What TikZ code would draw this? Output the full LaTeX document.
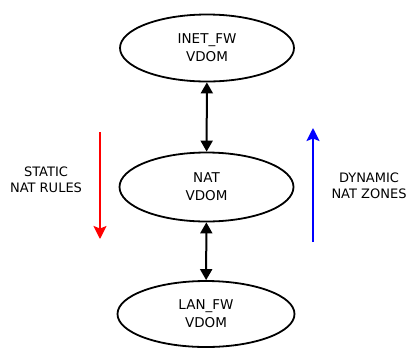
\documentclass[tikz,border=0pt]{standalone}
\usepackage{fontspec}
\setmainfont{DejaVu Sans}
\usetikzlibrary{shapes.geometric,arrows.meta}
\begin{document}
\begin{tikzpicture}[x=1pt,y=-1pt,
  vdom/.style={ellipse, draw, line width=1.8pt, inner sep=0pt, align=center,
    font=\fontsize{13.5}{18}\selectfont},
  lbl/.style={align=center, font=\fontsize{13}{16.5}\selectfont},
  link/.style={line width=2pt, {Triangle[length=11pt,width=12pt]}-{Triangle[length=11pt,width=12pt]}},
  flow/.style={line width=2pt, -{Stealth[length=13pt,width=13pt,inset=2.5pt]}}]
\useasboundingbox (0,0) rectangle (409,349);
\node[vdom, minimum width=174pt, minimum height=67pt] (inet) at (207,48) {INET\_FW\\VDOM};
\node[vdom, minimum width=174pt, minimum height=69pt] (nat) at (206.5,187) {NAT\\VDOM};
\node[vdom, minimum width=177pt, minimum height=66pt] (lan) at (206,314) {LAN\_FW\\VDOM};
\draw[link] (inet) -- (nat);
\draw[link] (nat) -- (lan);
\coordinate (rtop) at (100,132);
\coordinate (rbot) at (100,239);
\coordinate (btop) at (313,128);
\coordinate (bbot) at (313,242);
\draw[flow, red] (rtop) -- (rbot);
\draw[flow, blue] (bbot) -- (btop);
\node[lbl] (static) at (46,180) {STATIC\\NAT RULES};
\node[lbl] (dyn) at (369,186) {DYNAMIC\\NAT ZONES};
\end{tikzpicture}
\end{document}
